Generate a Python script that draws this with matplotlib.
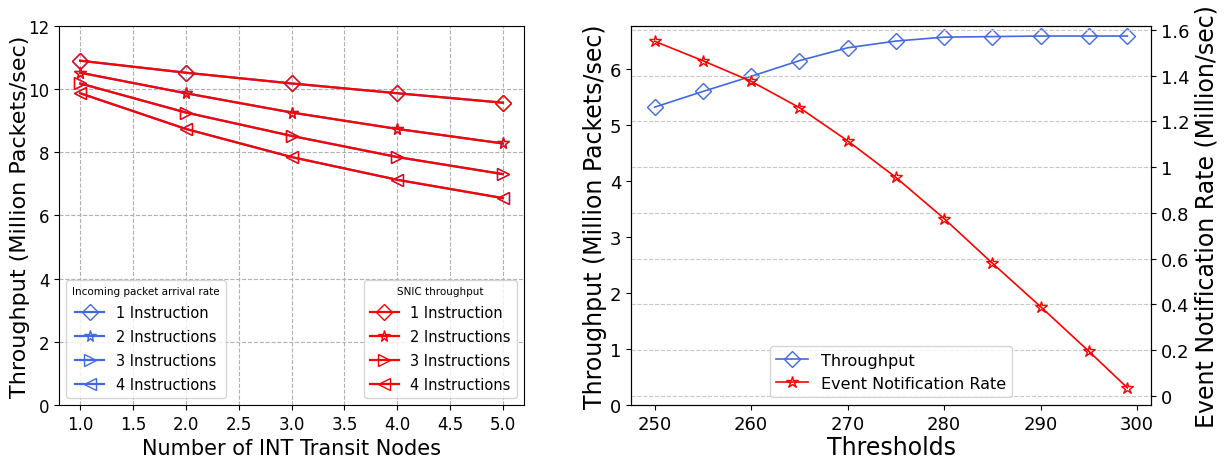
import matplotlib
matplotlib.use("Agg")
import matplotlib.pyplot as plt

# ---- Left chart data ----
nodes = [1, 2, 3, 4, 5]
series_labels = ["1 Instruction", "2 Instructions", "3 Instructions", "4 Instructions"]
arrival_rate = [
    [10.90, 10.52, 10.18, 9.87, 9.57],
    [10.52, 9.87, 9.26, 8.74, 8.28],
    [10.18, 9.26, 8.52, 7.85, 7.31],
    [9.87, 8.74, 7.85, 7.13, 6.55],
]
snic_throughput = [
    [10.90, 10.52, 10.18, 9.87, 9.57],
    [10.52, 9.87, 9.26, 8.74, 8.28],
    [10.18, 9.26, 8.52, 7.85, 7.31],
    [9.87, 8.74, 7.85, 7.13, 6.55],
]
left_yticks = [0, 2, 4, 6, 8, 10, 12]

# ---- Right chart data ----
thresholds = [250, 255, 260, 265, 270, 275, 280, 285, 290, 295, 299]
throughput = [5.32, 5.60, 5.87, 6.15, 6.38, 6.50, 6.57, 6.58, 6.59, 6.59, 6.59]
event_rate = [1.55, 1.465, 1.375, 1.26, 1.115, 0.955, 0.775, 0.58, 0.39, 0.195, 0.035]
right_yticks = [0, 0.2, 0.4, 0.6, 0.8, 1.0, 1.2, 1.4, 1.6]
right_yticklabels = ["0", "0.2", "0.4", "0.6", "0.8", "1", "1.2", "1.4", "1.6"]

markers = ["D", "*", ">", "<"]
BLUE = "#4169E1"
RED = "#FF0000"

fig = plt.figure(figsize=(12.25, 4.6), dpi=100)
axL = fig.add_axes([0.0482, 0.1174, 0.3796, 0.824])
axR = fig.add_axes([0.5151, 0.1174, 0.4245, 0.824])

# Left chart
blue_handles = []
red_handles = []
for i in range(4):
    h, = axL.plot(nodes, arrival_rate[i], color=BLUE, marker=markers[i],
                  mfc="none", mec=BLUE, ms=8.5, lw=1.6, label=series_labels[i])
    blue_handles.append(h)
for i in range(4):
    h, = axL.plot(nodes, snic_throughput[i], color=RED, marker=markers[i],
                  mfc="none", mec=RED, ms=8.5, lw=1.6, label=series_labels[i])
    red_handles.append(h)
axL.set_ylim(0, 12)
axL.set_yticks(left_yticks)
axL.grid(True, linestyle="--", color="#b0b0b0", lw=0.8)
axL.set_axisbelow(True)
axL.tick_params(labelsize=12)
axL.set_xlabel("Number of INT Transit Nodes", fontsize=15)
axL.set_ylabel("Throughput (Million Packets/sec)", fontsize=16)
axL.yaxis.set_label_coords(-0.062, 0.5)
leg1 = axL.legend(handles=blue_handles, loc="lower left", fontsize=10.5,
                  title="Incoming packet arrival rate", title_fontsize=7.5,
                  labelspacing=0.62)
axL.add_artist(leg1)
axL.legend(handles=red_handles, loc="lower right", fontsize=10.5,
           title="SNIC throughput", title_fontsize=7.5, labelspacing=0.62)

# Right chart
ax2 = axR.twinx()
l1, = axR.plot(thresholds, throughput, color=BLUE, marker="D", mfc="none",
               mec=BLUE, ms=8.5, lw=1.2, label="Throughput")
l2, = ax2.plot(thresholds, event_rate, color=RED, marker="*", mfc="none",
               mec=RED, ms=9, lw=1.2, label="Event Notification Rate")
axR.set_ylim(0, 6.77)
ax2.set_ylim(-0.04, 1.617)
ax2.set_yticks(right_yticks)
ax2.set_yticklabels(right_yticklabels)
ax2.grid(True, axis="y", linestyle="--", color="#c8c8c8", lw=0.8)
axR.set_xticks([250, 260, 270, 280, 290, 300])
axR.tick_params(labelsize=13)
ax2.tick_params(labelsize=13)
axR.set_xlabel("Thresholds", fontsize=17, labelpad=2)
axR.set_ylabel("Throughput (Million Packets/sec)", fontsize=17, labelpad=2)
ax2.set_ylabel("Event Notification Rate (Million/sec)", fontsize=17, labelpad=4)
ax2.legend(handles=[l1, l2], loc="lower center", fontsize=11.5)

fig.savefig("out.png", dpi=100)
